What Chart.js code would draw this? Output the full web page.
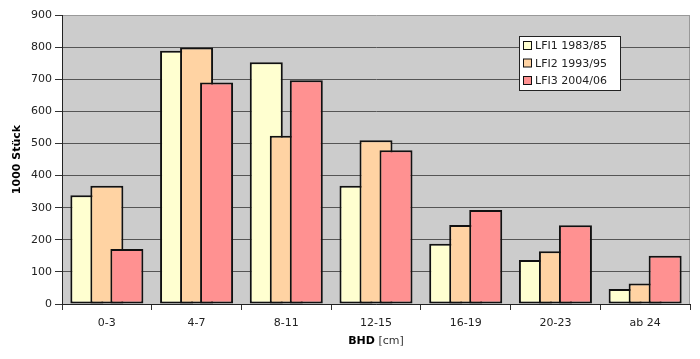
<!DOCTYPE html>
<html>
<head>
<meta charset="utf-8">
<script src="https://cdn.jsdelivr.net/npm/chart.js@4.4.1/dist/chart.umd.min.js"></script>
<style>
  body { margin: 0; background: #fff; }
</style>
</head>
<body>
<canvas id="bhdChart" width="700" height="359"></canvas>
<script>
  // BHD classes and stem counts (1000 Stück) per inventory
  var categories = ['0-3', '4-7', '8-11', '12-15', '16-19', '20-23', 'ab 24'];
  var seriesNames = ['LFI1 1983/85', 'LFI2 1993/95', 'LFI3 2004/06'];
  var lfi1 = [339, 789, 753, 368, 188, 137, 47];
  var lfi2 = [368, 799, 524, 510, 246, 164, 64];
  var lfi3 = [171, 690, 697, 479, 293, 245, 150];
  var yTicks = [0, 100, 200, 300, 400, 500, 600, 700, 800, 900];

  var colors = ['#ffffd0', '#ffd3a3', '#ff9191'];
  var font = 'DejaVu Sans';

  var seriesValues = [lfi1, lfi2, lfi3];
  var datasets = seriesValues.map(function(vals, d) {
    return {
      label: seriesNames[d],
      data: vals,
      backgroundColor: colors[d],
      borderColor: '#111',
      borderWidth: 2,
      borderSkipped: false,
      // bars wider than their slot -> Excel-like overlap
      categoryPercentage: 0.669,
      barPercentage: 1.65
    };
  });

  var plotBackground = {
    id: 'plotBackground',
    beforeDraw: function(chart) {
      var a = chart.chartArea, ctx = chart.ctx;
      ctx.save();
      ctx.fillStyle = '#cccccc';
      ctx.fillRect(a.left, a.top, a.right - a.left, a.bottom - a.top);
      ctx.strokeStyle = '#999';
      ctx.lineWidth = 1;
      ctx.beginPath();
      ctx.moveTo(a.right - 0.5, a.top);
      ctx.lineTo(a.right - 0.5, a.bottom);
      ctx.stroke();
      ctx.restore();
    }
  };

  // draw series left to right so each later bar overlaps the previous one
  var drawOrder = {
    id: 'drawOrder',
    beforeDatasetsDraw: function(chart) {
      for (var i = 0; i < chart.data.datasets.length; i++) {
        chart.getDatasetMeta(i).controller.draw();
      }
      return false;
    }
  };

  var overlay = {
    id: 'overlay',
    afterDraw: function(chart) {
      var ctx = chart.ctx, a = chart.chartArea;
      ctx.save();
      // legend box
      var bx = 519.5, by = 36.5, bw = 101, bh = 54;
      ctx.fillStyle = '#fff';
      ctx.fillRect(bx, by, bw, bh);
      ctx.strokeStyle = '#222';
      ctx.lineWidth = 1;
      ctx.strokeRect(bx, by, bw, bh);
      ctx.font = '11px "' + font + '"';
      ctx.textBaseline = 'middle';
      ctx.textAlign = 'left';
      seriesNames.forEach(function(name, d) {
        var cy = 46 + d * 17.5;
        ctx.fillStyle = colors[d];
        ctx.fillRect(523.5, cy - 4.5, 8, 8);
        ctx.strokeStyle = '#111';
        ctx.strokeRect(523.5, cy - 4.5, 8, 8);
        ctx.fillStyle = '#222';
        ctx.fillText(name, 535, cy + 0.5);
      });
      // x axis title: bold "BHD" + normal " [cm]"
      var cx = (a.left + a.right) / 2, ty = 341;
      ctx.font = 'bold 11px "' + font + '"';
      var w1 = ctx.measureText('BHD').width;
      ctx.font = '11px "' + font + '"';
      var w2 = ctx.measureText(' [cm]').width;
      var x0 = cx - (w1 + w2) / 2;
      ctx.fillStyle = '#000';
      ctx.font = 'bold 11px "' + font + '"';
      ctx.fillText('BHD', x0, ty);
      ctx.fillStyle = '#333';
      ctx.font = '11px "' + font + '"';
      ctx.fillText(' [cm]', x0 + w1, ty);
      ctx.restore();
    }
  };

  var ctx = document.getElementById('bhdChart').getContext('2d');
  var chart = new Chart(ctx, {
    type: 'bar',
    data: { labels: categories, datasets: datasets },
    options: {
      responsive: false,
      animation: false,
      layout: { padding: { top: 15, right: 10, left: 0, bottom: 0 } },
      plugins: { legend: { display: false }, tooltip: { enabled: false } },
      scales: {
        x: {
          offset: true,
          grid: { offset: true, drawOnChartArea: false, drawTicks: true, tickLength: 6, tickColor: '#333' },
          border: { display: true, color: '#222', width: 1 },
          ticks: { font: { family: font, size: 11 }, color: '#222', padding: 7 },
          afterFit: function(scale) { scale.height = 55; }
        },
        y: {
          min: yTicks[0],
          max: yTicks[yTicks.length - 1],
          ticks: { stepSize: yTicks[1] - yTicks[0], font: { family: font, size: 11 }, color: '#222', padding: 3 },
          grid: {
            color: function(c) { return c.tick && c.tick.value === yTicks[yTicks.length - 1] ? '#999' : '#555'; },
            lineWidth: 1,
            tickLength: 7,
            tickColor: '#333'
          },
          border: { display: true, color: '#222', width: 1 },
          title: {
            display: true,
            text: '1000 Stück',
            font: { family: font, size: 11, weight: 'bold' },
            color: '#000',
            padding: { top: 11, bottom: 0 }
          },
          afterFit: function(scale) { scale.width = 62; }
        }
      }
    },
    plugins: [plotBackground, drawOrder, overlay]
  });
</script>
</body>
</html>
